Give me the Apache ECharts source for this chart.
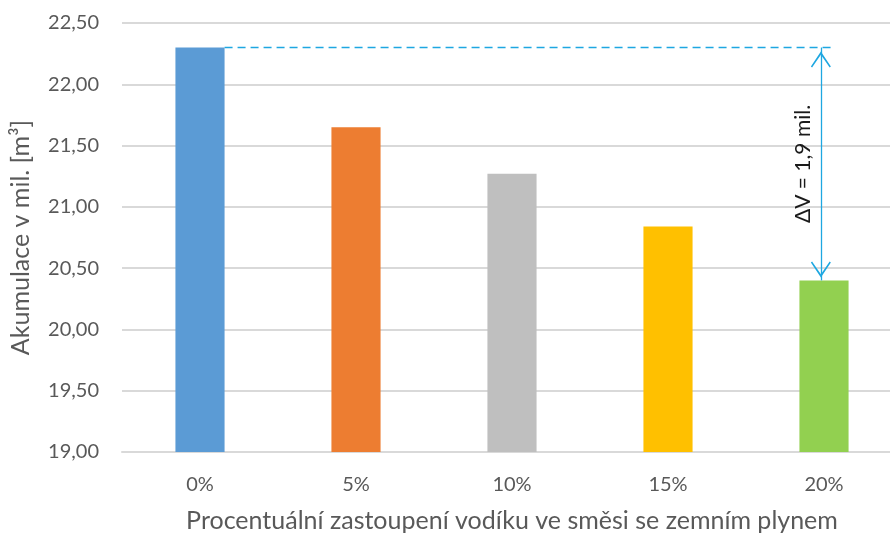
<!DOCTYPE html>
<html>
<head>
<meta charset="utf-8">
<script src="https://cdn.jsdelivr.net/npm/echarts@6/dist/echarts.min.js"></script>
<style>
  html, body { margin: 0; padding: 0; background: #fff; overflow: hidden; }
  /* the plot area runs a little past the right edge of the window */
  #chart { width: 902px; height: 533px; }
</style>
</head>
<body>
<div id="chart"></div>
<script>
// Podíl vodíku ve směsi a akumulace (mil. m3)
const categories = ['0%', '5%', '10%', '15%', '20%'];
const values = [22.30, 21.65, 21.27, 20.84, 20.40];
const barColors = ['#5B9BD5', '#ED7D31', '#BFBFBF', '#FFC000', '#92D050'];
const yTicks = { min: 19, max: 22.5, step: 0.5 };

const FONT = 'Lato, "Noto Sans", sans-serif';
const fmt = (v, d) => v.toFixed(d).replace('.', ',');

const BAR_FRACTION = 0.315;
const first = values[0];
const last = values[values.length - 1];
const lastIdx = values.length - 1;
const delta = first - last;
const accent = '#1EA7E1';

// chevron arrowhead, tip pointing up
const chevron = 'path://M10,0 L20,14 L18.8,15 L10,3 L1.2,15 L0,14 Z';

const chart = echarts.init(document.getElementById('chart'), null, { renderer: 'canvas' });
chart.setOption({
  animation: false,
  backgroundColor: '#fff',
  grid: { left: 122, top: 23, right: 0, bottom: 81, outerBoundsMode: 'none', containLabel: false },
  xAxis: [{
    type: 'category',
    data: categories,
    name: 'Procentuální zastoupení vodíku ve směsi se zemním plynem',
    nameLocation: 'middle',
    nameGap: 56,
    nameTextStyle: { fontFamily: FONT, fontSize: 25, color: '#595959' },
    axisLine: { lineStyle: { color: '#D9D9D9', width: 2 } },
    axisTick: { show: false },
    axisLabel: { margin: 23, fontFamily: FONT, fontSize: 20, color: '#595959' }
  }, {
    // numeric twin of the category axis, used for the annotation lines
    type: 'value',
    min: -0.5,
    max: categories.length - 0.5,
    show: false
  }],
  yAxis: {
    type: 'value',
    min: yTicks.min,
    max: yTicks.max,
    interval: yTicks.step,
    name: 'Akumulace v mil. [m³]',
    nameLocation: 'middle',
    nameRotate: 90,
    nameGap: 89,
    nameTextStyle: { fontFamily: FONT, fontSize: 25, color: '#595959' },
    axisLine: { show: false },
    axisTick: { show: false },
    axisLabel: { margin: 23, fontFamily: FONT, fontSize: 20, color: '#595959',
                 formatter: v => fmt(v, 2) },
    splitLine: { lineStyle: { color: '#D9D9D9', width: 2 } }
  },
  series: [{
    type: 'bar',
    barWidth: (BAR_FRACTION * 100) + '%',
    data: values.map((v, i) => ({ value: v, itemStyle: { color: barColors[i] } }))
  }, {
    type: 'line',
    xAxisIndex: 1,
    data: [],
    silent: true,
    markLine: {
      silent: true,
      animation: false,
      data: [
        [
          { coord: [BAR_FRACTION / 2, first], symbol: 'none',
            lineStyle: { type: [8, 5], color: accent, width: 1.3 }, label: { show: false } },
          { coord: [lastIdx + 0.06, first], symbol: 'none' }
        ],
        [
          { coord: [lastIdx - 0.02, last], symbol: chevron, symbolSize: [20, 16], symbolOffset: [0, 11],
            lineStyle: { type: 'solid', color: accent, width: 1.3 },
            label: { show: true, position: 'middle', distance: 7,
                     formatter: 'ΔV = ' + fmt(delta, 1) + ' mil.',
                     fontFamily: FONT, fontSize: 21, color: '#1a1a1a' } },
          { coord: [lastIdx - 0.02, first], symbol: chevron, symbolSize: [20, 16], symbolOffset: [0, 12] }
        ]
      ]
    }
  }]
});
</script>
</body>
</html>
